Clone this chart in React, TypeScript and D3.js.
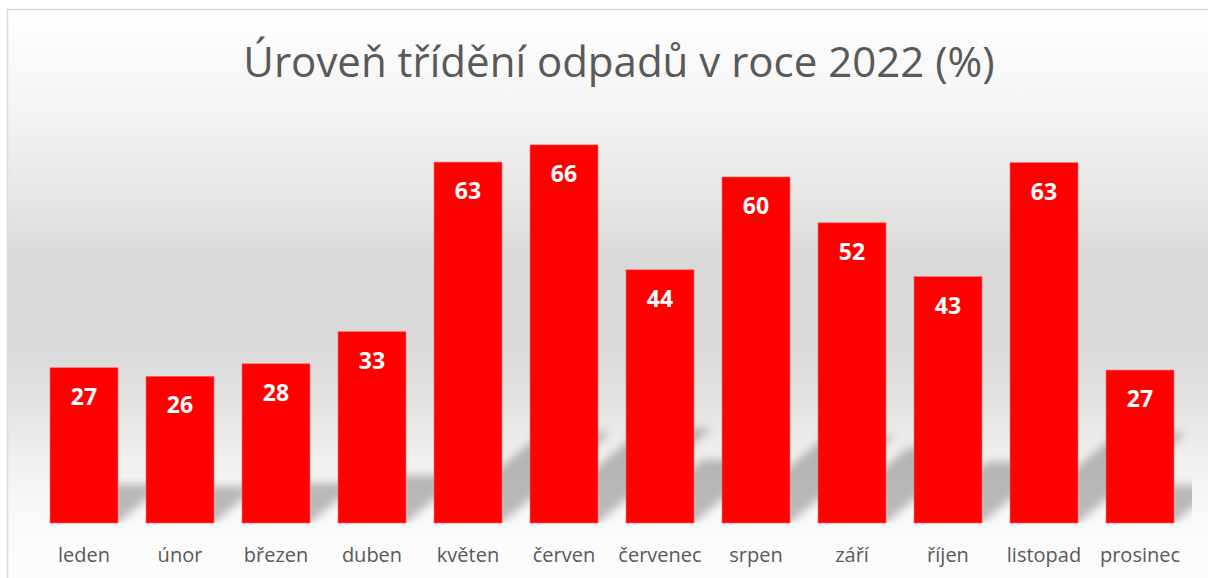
import * as d3 from "d3";

// values (bar heights), labels as shown on the bars
const months = [
  "leden", "únor", "březen", "duben", "květen", "červen",
  "červenec", "srpen", "září", "říjen", "listopad", "prosinec",
];
const values = [27.1, 25.6, 27.8, 33.4, 63.0, 66.0, 44.2, 60.4, 52.4, 43.0, 62.9, 26.7];
const title = "Úroveň třídění odpadů v roce 2022 (%)";

const W = 1208;
const H = 578;
const base = 523;

const x = d3.scaleBand<string>().domain(months).range([36, 1188])
  .paddingInner(0.2917).paddingOuter(0.1458);
const y = d3.scaleLinear().domain([0, 70]).range([base, 122]);

const font = "'Open Sans', 'Noto Sans', sans-serif";

export default function App() {
  const bw = x.bandwidth();

  const shadow = (m: string, v: number) => {
    const x0 = x(m)!;
    const h = base - y(v);
    const sh = h * 0.25;
    const sx = sh * 1.2;
    return `M${x0},${base}L${x0 + bw},${base}L${x0 + bw + sx},${base - sh}L${x0 + sx},${base - sh}Z`;
  };

  return (
    <svg width={W} height={H} style={{ position: "absolute", left: 0, top: 0 }}>
      <defs>
        <linearGradient id="bg" gradientUnits="userSpaceOnUse" x1="0" y1="9" x2="0" y2="578">
          <stop offset={0} stopColor="#ffffff" />
          <stop offset={(100 - 9) / 569} stopColor="#f5f5f5" />
          <stop offset={(200 - 9) / 569} stopColor="#e6e6e6" />
          <stop offset={(260 - 9) / 569} stopColor="#d9d9d9" />
          <stop offset={(340 - 9) / 569} stopColor="#d9d9d9" />
          <stop offset={(400 - 9) / 569} stopColor="#e2e2e2" />
          <stop offset={(450 - 9) / 569} stopColor="#eeeeee" />
          <stop offset={(500 - 9) / 569} stopColor="#f7f7f7" />
          <stop offset={(540 - 9) / 569} stopColor="#fbfbfb" />
          <stop offset={1} stopColor="#fcfcfc" />
        </linearGradient>
        <filter id="blur" x="-50%" y="-50%" width="200%" height="200%">
          <feGaussianBlur stdDeviation={4} />
        </filter>
        <clipPath id="plotClip">
          <rect x={7} y={100} width={1185} height={base - 100} />
        </clipPath>
      </defs>

      <rect x={7.5} y={9.5} width={1240} height={600} fill="url(#bg)" stroke="#d9d9d9" strokeWidth={1.5} />

      <text x={619} y={77} textAnchor="middle" fontFamily={font} fontSize={42} fill="#595959">
        {title}
      </text>

      <g clipPath="url(#plotClip)">
        <g filter="url(#blur)">
          {months.map((m, i) => (
            <path key={m} d={shadow(m, values[i])} fill="#000" fillOpacity={0.25} />
          ))}
        </g>
      </g>

      {months.map((m, i) => (
        <rect key={m} x={x(m)} y={y(values[i])} width={bw} height={base - y(values[i])}
          fill="#ff0000" stroke="#ff6a6a" strokeWidth={0.6} />
      ))}

      {months.map((m, i) => (
        <text key={m} x={x(m)! + bw / 2} y={y(values[i]) + 37} textAnchor="middle"
          fontFamily={font} fontWeight="bold" fontSize={23} fill="#ffffff">
          {Math.round(values[i])}
        </text>
      ))}

      {months.map((m) => (
        <text key={m} x={x(m)! + bw / 2} y={562} textAnchor="middle"
          fontFamily={font} fontSize={20} fill="#595959">
          {m}
        </text>
      ))}
    </svg>
  );
}
